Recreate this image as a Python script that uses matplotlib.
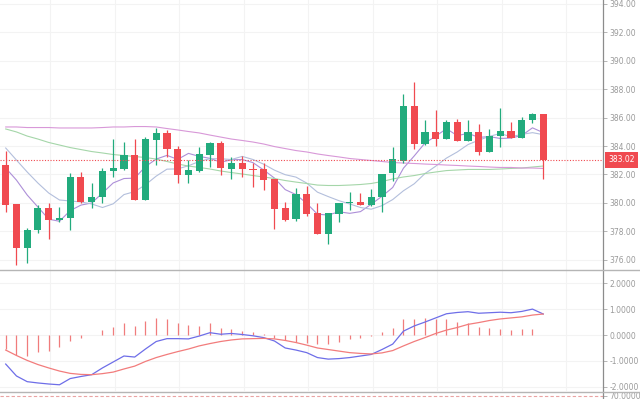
import matplotlib
matplotlib.use("Agg")
import matplotlib.pyplot as plt
import numpy as np
from matplotlib.lines import Line2D

# candles (open, high, low, close)
opens = [382.66, 379.89, 376.84, 378.06, 379.63, 378.77, 378.93, 381.82, 380.06, 380.41,
         382.24, 382.40, 383.37, 380.20, 384.44, 384.89, 383.79, 381.96, 382.24, 383.39,
         384.19, 382.38, 382.82, 382.38, 382.36, 381.65, 379.61, 378.86, 380.62, 379.30,
         377.80, 379.21, 379.96, 380.08, 379.82, 380.39, 382.08, 382.96, 386.84, 384.14,
         384.96, 384.47, 385.71, 384.35, 384.96, 383.56, 384.73, 385.08, 384.54, 385.85,
         386.23]
highs = [383.65, 379.90, 378.25, 379.87, 379.96, 379.68, 382.10, 382.19, 381.37, 382.43,
         384.49, 384.26, 384.49, 384.61, 385.29, 385.13, 384.02, 383.01, 383.95, 384.30,
         384.37, 383.20, 383.32, 382.78, 382.78, 381.65, 380.08, 381.02, 381.20, 380.01,
         379.26, 379.96, 380.76, 380.67, 381.00, 382.05, 383.91, 387.66, 388.49, 385.83,
         386.54, 385.83, 385.92, 385.83, 385.53, 385.18, 386.70, 385.67, 386.06, 386.35,
         386.23]
lows = [379.35, 375.62, 375.74, 377.85, 377.47, 378.67, 378.08, 380.00, 379.61, 379.96,
        381.80, 382.31, 380.20, 380.20, 382.66, 383.20, 381.42, 381.37, 382.15, 382.54,
        381.96, 381.65, 381.84, 381.13, 380.90, 378.13, 378.74, 378.74, 379.07, 377.80,
        377.10, 378.67, 379.49, 379.82, 379.77, 379.37, 381.54, 382.80, 383.77, 384.07,
        384.00, 384.47, 384.35, 384.35, 383.37, 383.56, 383.91, 384.54, 384.54, 385.60,
        381.65]
closes = [379.87, 376.84, 378.08, 379.63, 378.79, 378.91, 381.82, 380.04, 380.41, 382.26,
          382.47, 383.37, 380.20, 384.47, 384.89, 383.79, 381.96, 382.31, 383.42, 384.19,
          382.43, 382.82, 382.38, 382.31, 381.61, 379.56, 378.79, 380.62, 379.21, 377.80,
          379.26, 379.96, 380.06, 379.82, 380.41, 382.05, 383.06, 386.84, 384.14, 384.96,
          384.47, 385.71, 384.35, 384.96, 383.56, 384.70, 385.06, 384.54, 385.85, 386.23,
          383.02]

# moving average lines as seen on the chart
ma5 = [382.45, 381.60, 380.55, 379.70, 378.85, 378.70, 379.45, 379.84, 379.99, 380.69,
       381.40, 381.71, 381.74, 382.55, 383.08, 383.34, 383.06, 383.48, 383.27, 383.13,
       382.86, 383.03, 383.05, 382.83, 382.31, 381.74, 380.93, 380.58, 379.96, 379.20,
       379.14, 379.37, 379.26, 379.38, 379.90, 380.46, 381.08, 382.44, 383.30, 384.21,
       384.69, 385.22, 384.73, 384.89, 384.61, 384.66, 384.53, 384.56, 384.74, 385.28,
       384.94]
ma10 = [383.86, 383.01, 382.17, 381.39, 380.69, 380.20, 380.13, 380.06, 379.92, 379.67,
        379.93, 380.58, 380.79, 381.27, 381.88, 382.37, 382.39, 382.61, 382.91, 383.11,
        383.10, 383.05, 383.27, 383.05, 382.72, 382.30, 381.98, 381.81, 381.39, 380.75,
        380.44, 380.15, 379.92, 379.67, 379.55, 379.80, 380.23, 380.85, 381.34, 382.06,
        382.58, 383.15, 383.58, 384.10, 384.41, 384.68, 384.88, 384.65, 384.82, 384.94,
        384.80]
ma30 = [385.20, 384.99, 384.70, 384.49, 384.25, 384.07, 383.89, 383.75, 383.61, 383.51,
        383.40, 383.33, 383.26, 383.19, 383.08, 382.91, 382.73, 382.59, 382.49, 382.38,
        382.24, 382.13, 382.03, 381.92, 381.82, 381.71, 381.57, 381.46, 381.36, 381.25,
        381.22, 381.22, 381.25, 381.29, 381.36, 381.50, 381.68, 381.82, 381.92, 382.06,
        382.17, 382.27, 382.31, 382.35, 382.35, 382.35, 382.38, 382.42, 382.45, 382.52,
        382.59]
ma60 = [385.34, 385.34, 385.30, 385.30, 385.30, 385.27, 385.27, 385.27, 385.27, 385.30,
        385.34, 385.34, 385.37, 385.37, 385.34, 385.23, 385.13, 385.02, 384.92, 384.77,
        384.63, 384.49, 384.39, 384.28, 384.14, 383.96, 383.82, 383.68, 383.58, 383.44,
        383.33, 383.23, 383.12, 383.05, 382.98, 382.91, 382.84, 382.80, 382.77, 382.73,
        382.70, 382.66, 382.63, 382.59, 382.56, 382.52, 382.49, 382.49, 382.45, 382.45,
        382.42]

# MACD pane
dif = [-1.12, -1.58, -1.80, -1.85, -1.89, -1.92, -1.68, -1.60, -1.53, -1.27,
       -1.04, -0.81, -0.85, -0.54, -0.25, -0.14, -0.14, -0.15, -0.04, 0.09,
       0.03, 0.06, 0.02, -0.03, -0.10, -0.23, -0.50, -0.58, -0.68, -0.87,
       -0.93, -0.91, -0.87, -0.81, -0.75, -0.56, -0.35, 0.15, 0.35, 0.50,
       0.66, 0.82, 0.87, 0.90, 0.84, 0.86, 0.88, 0.86, 0.91, 1.00,
       0.81]
dea = [-0.58, -0.79, -0.98, -1.14, -1.27, -1.39, -1.48, -1.52, -1.53, -1.49,
       -1.43, -1.31, -1.20, -1.02, -0.87, -0.75, -0.64, -0.54, -0.42, -0.33,
       -0.25, -0.19, -0.15, -0.14, -0.13, -0.15, -0.21, -0.29, -0.39, -0.50,
       -0.56, -0.62, -0.68, -0.71, -0.73, -0.69, -0.60, -0.42, -0.25, -0.10,
       0.06, 0.19, 0.29, 0.41, 0.48, 0.56, 0.62, 0.66, 0.70, 0.77,
       0.81]
hist = [-0.54, -0.77, -0.81, -0.64, -0.61, -0.48, -0.23, -0.12, -0.01, 0.19,
        0.30, 0.47, 0.35, 0.54, 0.64, 0.62, 0.47, 0.39, 0.36, 0.45,
        0.28, 0.22, 0.15, 0.12, 0.04, -0.10, -0.19, -0.26, -0.30, -0.35,
        -0.35, -0.26, -0.17, -0.10, -0.03, 0.13, 0.28, 0.62, 0.62, 0.64,
        0.62, 0.62, 0.51, 0.47, 0.30, 0.26, 0.23, 0.18, 0.22, 0.22,
        0.01]

last_price = 383.02
price_ticks = [376, 378, 380, 382, 384, 386, 388, 390, 392, 394]
macd_ticks = [-2, -1, 0, 1, 2]

UP = '#22ab7d'
DOWN = '#f04a50'
TXT = '#9a9a9a'
GRID = '#f3f3f3'

idx = np.arange(len(closes))
o = np.array(opens)
c = np.array(closes)
h = np.array(highs)
l = np.array(lows)
cols = [UP if cc >= oo else DOWN for oo, cc in zip(o, c)]
gridx = np.arange(4.15, 56, 6)

fig = plt.figure(figsize=(6.4, 3.99), dpi=100)
ax = fig.add_axes([0, 1 - 270 / 399, 603 / 640, 270 / 399])
ax2 = fig.add_axes([0, 1 - 391 / 399, 603 / 640, 120 / 399])
ax3 = fig.add_axes([0, 0, 603 / 640, 7 / 399])

xl = (-0.53, 55.56)

# price pane
ax.vlines(idx, l, h, colors=cols, linewidth=0.9, zorder=3)
body = np.maximum(np.abs(c - o), 0.06)
ax.bar(idx, body, bottom=np.minimum(o, c), width=0.66, color=cols, zorder=4, linewidth=0)
ax.plot(idx, ma5, color='#ad8fd8', lw=0.8, zorder=2)
ax.plot(idx, ma10, color='#b3bfdc', lw=0.8, zorder=2)
ax.plot(idx, ma30, color='#a5d6a9', lw=0.8, zorder=2)
ax.plot(idx, ma60, color='#d898d8', lw=0.8, zorder=2)
ax.axhline(last_price, color=DOWN, lw=0.8, ls=(0, (1, 1.5)), zorder=5)
ax.text(1.0 + 5 / 603, last_price, '%.2f' % last_price, transform=ax.get_yaxis_transform(),
        color='white', fontsize=5.5, va='center', ha='left', clip_on=False,
        bbox=dict(boxstyle='square,pad=0.45', fc=DOWN, ec='none'))
ax.set_xlim(*xl)
ax.set_ylim(375.27, 394.28)
ax.set_yticks(price_ticks)
ax.set_yticklabels(['%.2f' % t for t in price_ticks])

# MACD pane
ax2.vlines(idx, 0, hist, colors='#f07c7c', linewidth=0.9)
ax2.plot(idx, dif, color='#6e6ee8', lw=0.9)
ax2.plot(idx, dea, color='#f27c7c', lw=0.9)
ax2.set_xlim(*xl)
ax2.set_ylim(-2.16, 2.47)
ax2.set_yticks(macd_ticks)
ax2.set_yticklabels(['%.4f' % t for t in macd_ticks])

# bottom pane, only its top edge shows
ax3.axhline(70, color='#e9a3a3', lw=0.8, ls=(0, (3, 2)))
ax3.set_xlim(*xl)
ax3.set_ylim(65.7, 75.7)
ax3.set_yticks([70])
ax3.set_yticklabels(['70.0000'])

for a in (ax, ax2, ax3):
    a.yaxis.tick_right()
    a.set_xticks(gridx)
    a.tick_params(axis='x', length=0, labelbottom=False)
    a.tick_params(axis='y', length=3, width=0.6, color='#aaaaaa', labelsize=5.5,
                  labelcolor=TXT, pad=1.5)
    a.grid(True, color=GRID, lw=0.8)
    a.set_axisbelow(True)
    for s in ('top', 'left', 'bottom'):
        a.spines[s].set_visible(False)
    a.spines['right'].set_color('#8c8c8c')
    a.spines['right'].set_linewidth(0.9)
ax3.grid(False)

# pane separators
for yy in (270, 391.5):
    fig.add_artist(Line2D([0, 1], [1 - yy / 399] * 2, color='#b5b5b5', lw=1.0))

fig.savefig('out.png', dpi=100)
